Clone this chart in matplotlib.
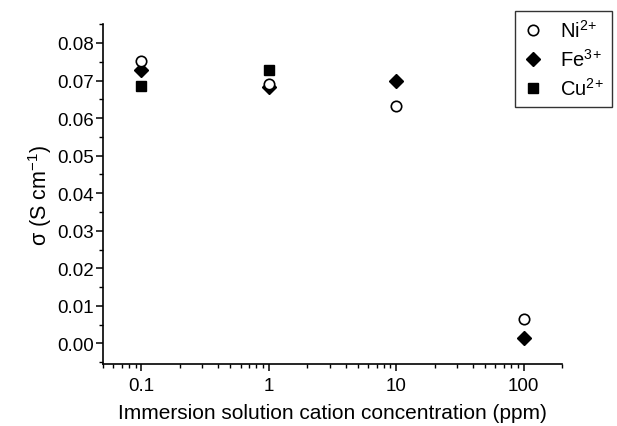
import numpy as np
import matplotlib
matplotlib.use("Agg")
import matplotlib.pyplot as plt
from matplotlib.ticker import MultipleLocator, LogLocator, NullFormatter, FixedLocator, FixedFormatter

plt.rcParams['font.family'] = ['Liberation Sans', 'DejaVu Sans']
plt.rcParams['mathtext.fontset'] = 'custom'
plt.rcParams['mathtext.rm'] = 'Liberation Sans'
plt.rcParams['mathtext.it'] = 'Liberation Sans:italic'
plt.rcParams['mathtext.bf'] = 'Liberation Sans:bold'

# concentration (ppm) and conductivity (S/cm)
conc = [0.1, 1, 10, 100]
ni = [0.0752, 0.0690, 0.0633, 0.0066]
fe = [0.0729, 0.0683, 0.0700, 0.0015]
cu = [0.0685, 0.0728, np.nan, np.nan]

fig = plt.figure(figsize=(6.17, 4.27), dpi=100)
ax = fig.add_axes([0.167, 0.145, 0.744, 0.796])

ax.plot(conc, fe, 'D', color='black', markersize=7.5, linestyle='none', label='Fe$^{3}$$^{+}$', zorder=3)
ax.plot(conc, ni, 'o', mfc='white', mec='black', mew=1.2, markersize=7.5, linestyle='none', label='Ni$^{2}$$^{+}$', zorder=4)
ax.plot(conc, cu, 's', color='black', markersize=7, linestyle='none', label='Cu$^{2}$$^{+}$', zorder=5)

ax.set_xscale('log')
ax.set_xlim(0.05, 200)
ax.set_ylim(-0.0055, 0.085)

ax.xaxis.set_major_locator(FixedLocator([0.1, 1, 10, 100]))
ax.xaxis.set_major_formatter(FixedFormatter(['0.1', '1', '10', '100']))
ax.xaxis.set_minor_locator(LogLocator(base=10, subs=np.arange(2, 10)))
ax.xaxis.set_minor_formatter(NullFormatter())

ax.yaxis.set_major_locator(MultipleLocator(0.01))
ax.yaxis.set_minor_locator(MultipleLocator(0.005))
ax.yaxis.set_major_formatter(matplotlib.ticker.FormatStrFormatter('%.2f'))

for s in ['top', 'right']:
    ax.spines[s].set_visible(False)
for s in ['left', 'bottom']:
    ax.spines[s].set_linewidth(1.2)

ax.tick_params(which='major', direction='out', length=5, width=1.1, labelsize=13.5, pad=1.5)
ax.tick_params(axis='x', which='major', pad=4)
ax.tick_params(which='minor', direction='out', length=3, width=1.0)

ax.set_xlabel('Immersion solution cation concentration (ppm)', fontsize=15, labelpad=7)
ax.set_ylabel('σ (S cm$^{-1}$)', fontsize=15.5, labelpad=2)

h, l = ax.get_legend_handles_labels()
order = [1, 0, 2]
leg = fig.legend([h[i] for i in order], [l[i] for i in order],
                 loc='upper right', bbox_to_anchor=(0.998, 0.982),
                 fontsize=14.5, frameon=True, fancybox=False, edgecolor='black',
                 handlelength=1.0, handletextpad=0.8, borderpad=0.4, labelspacing=0.35,
                 borderaxespad=0.2)
leg.get_frame().set_linewidth(1.0)

fig.savefig('out.png', dpi=100)
